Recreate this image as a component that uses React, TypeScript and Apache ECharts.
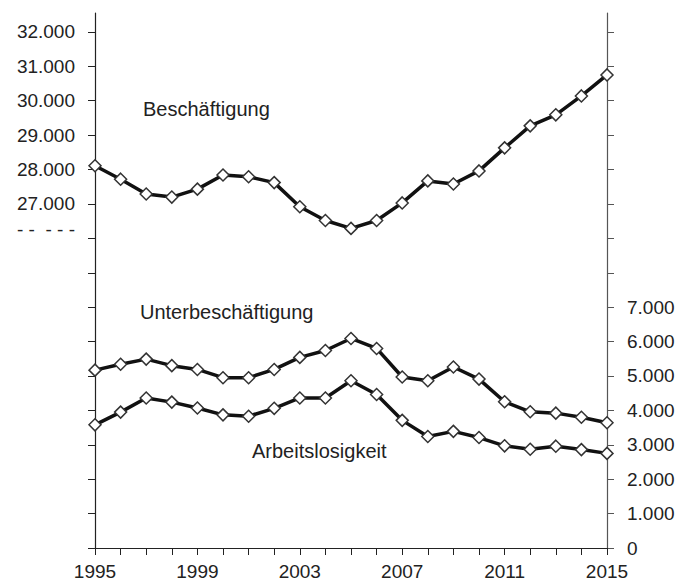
import React, { useEffect, useRef } from "react";
import * as echarts from "echarts";

const years = [
  "1995", "1996", "1997", "1998", "1999", "2000", "2001", "2002", "2003", "2004",
  "2005", "2006", "2007", "2008", "2009", "2010", "2011", "2012", "2013", "2014", "2015",
];

// Beschäftigung (left axis, thousands)
const beschaeftigung = [
  28110, 27720, 27290, 27200, 27430, 27840, 27790, 27620, 26920, 26520,
  26290, 26520, 27030, 27670, 27580, 27960, 28630, 29270, 29590, 30140, 30750,
];

// Unterbeschäftigung (right axis, thousands)
const unterbeschaeftigung = [
  5170, 5340, 5490, 5300, 5190, 4950, 4950, 5190, 5540, 5740,
  6090, 5800, 4970, 4860, 5260, 4910, 4250, 3960, 3920, 3800, 3640,
];

// Arbeitslosigkeit (right axis, thousands)
const arbeitslosigkeit = [
  3580, 3950, 4360, 4240, 4070, 3870, 3830, 4060, 4360, 4360,
  4860, 4460, 3710, 3240, 3390, 3210, 2970, 2870, 2960, 2860, 2750,
];

const leftTicks = [
  17000, 18000, 19000, 20000, 21000, 22000, 23000, 24000,
  25000, 26000, 27000, 28000, 29000, 30000, 31000, 32000,
];
const leftLabels = [26000, 27000, 28000, 29000, 30000, 31000, 32000];

const rightTicks = [
  0, 1000, 2000, 3000, 4000, 5000, 6000, 7000,
  8000, 9000, 10000, 11000, 12000, 13000, 14000, 15000,
];
const rightLabels = [0, 1000, 2000, 3000, 4000, 5000, 6000, 7000];

const BREAK_LABEL = "- -\u00a0\u00a0- - -";

const FONT = "'Liberation Sans', Arial, sans-serif";
const TXT = "#222";

function fmt(v: number): string {
  if (v === 0) return "0";
  const s = String(Math.round(v));
  return s.slice(0, s.length - 3) + "." + s.slice(s.length - 3);
}

export default function App() {
  const ref = useRef<HTMLDivElement>(null);
  useEffect(() => {
    if (!ref.current) return;
    const chart = echarts.init(ref.current, null, { renderer: "svg" });
    const lineSeries = (name: string, data: number[], yAxisIndex: number) => ({
      name,
      type: "line",
      yAxisIndex,
      data,
      symbol: "diamond",
      symbolSize: 12,
      lineStyle: { color: "#111", width: 3.5 },
      itemStyle: { color: "#fff", borderColor: "#333", borderWidth: 1.5 },
      z: 3,
    });
    chart.setOption({
      animation: false,
      backgroundColor: "#fff",
      grid: { left: 95, right: 72, top: 13, bottom: 35, containLabel: false },
      xAxis: {
        type: "category",
        data: years,
        boundaryGap: false,
        axisLine: { lineStyle: { color: "#222", width: 1.2 } },
        axisTick: { show: true, interval: 0, length: 7, lineStyle: { color: "#222" } },
        axisLabel: {
          interval: 3,
          margin: 14,
          fontSize: 19,
          fontFamily: FONT,
          color: TXT,
        },
        splitLine: { show: false },
      },
      yAxis: [
        {
          type: "value",
          position: "left",
          min: 17000,
          max: 32550,
          axisLine: { show: true, lineStyle: { color: "#222", width: 1.2 } },
          axisTick: { show: true, length: 7, customValues: leftTicks, lineStyle: { color: "#222" } },
          axisLabel: {
            customValues: leftLabels,
            margin: 20,
            fontSize: 19,
            fontFamily: FONT,
            color: TXT,
            formatter: (v: number) => (v === 26000 ? "{d|" + BREAK_LABEL + "}" : fmt(v)),
            rich: {
              d: { fontSize: 19, fontFamily: FONT, color: TXT, padding: [0, 0, 18, 0] },
            },
          },
          splitLine: { show: false },
        },
        {
          type: "value",
          position: "right",
          min: 0,
          max: 15550,
          axisLine: { show: true, lineStyle: { color: "#555", width: 1.2 } },
          axisTick: { show: true, length: 7, customValues: rightTicks, lineStyle: { color: "#555" } },
          axisLabel: {
            customValues: rightLabels,
            margin: 20,
            fontSize: 19,
            fontFamily: FONT,
            color: TXT,
            formatter: (v: number) => fmt(v),
          },
          splitLine: { show: false },
        },
      ],
      graphic: [
        {
          type: "text",
          left: 143,
          top: 99,
          style: { text: "Beschäftigung", fontSize: 20, fontFamily: FONT, fill: TXT },
        },
        {
          type: "text",
          left: 140,
          top: 302,
          style: { text: "Unterbeschäftigung", fontSize: 20, fontFamily: FONT, fill: TXT },
        },
        {
          type: "text",
          left: 252,
          top: 441,
          style: { text: "Arbeitslosigkeit", fontSize: 20, fontFamily: FONT, fill: TXT },
        },
      ],
      series: [
        lineSeries("Beschäftigung", beschaeftigung, 0),
        lineSeries("Unterbeschäftigung", unterbeschaeftigung, 1),
        lineSeries("Arbeitslosigkeit", arbeitslosigkeit, 1),
      ],
    });
    return () => chart.dispose();
  }, []);
  return (
    <div
      ref={ref}
      style={{ position: "absolute", left: 0, top: 0, width: 679, height: 583 }}
    />
  );
}
